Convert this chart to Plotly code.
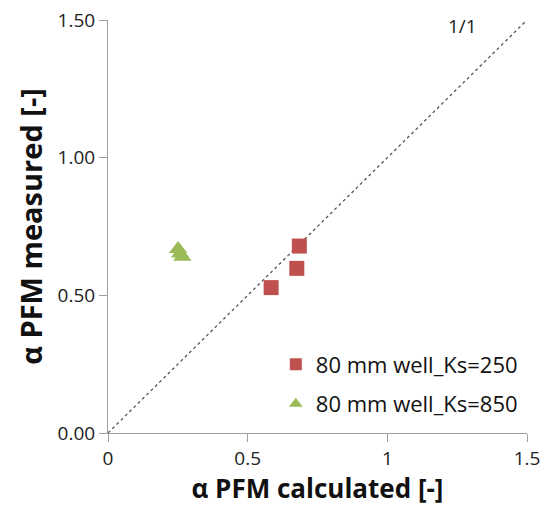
import plotly.graph_objects as go

ks250_x = [0.685, 0.676, 0.584]
ks250_y = [0.679, 0.598, 0.528]
ks850_x = [0.251, 0.258, 0.266]
ks850_y = [0.668, 0.652, 0.640]
line_xy = [0, 1.5]
x_ticks = [0, 0.5, 1, 1.5]
x_tick_labels = ["0", "0.5", "1", "1.5"]
y_ticks = [0, 0.5, 1.0, 1.5]
y_tick_labels = ["0.00", "0.50", "1.00", "1.50"]

font = "Open Sans"
fig = go.Figure()
fig.add_trace(go.Scatter(x=line_xy, y=line_xy, mode="lines",
                         line=dict(color="#555555", width=1.3, dash="dot"),
                         showlegend=False, hoverinfo="skip"))
fig.add_trace(go.Scatter(x=ks250_x, y=ks250_y, mode="markers", name="80 mm well_Ks=250",
                         legendgroup="a",
                         marker=dict(symbol="square", size=15, color="#c0504d")))
fig.add_trace(go.Scatter(x=ks850_x, y=ks850_y, mode="markers", name="80 mm well_Ks=850",
                         legendgroup="b",
                         marker=dict(symbol="triangle-up", size=16, color="#9bbb59")))

fig.add_annotation(x=1.268, y=1.48, text="1/1", showarrow=False, xref="x", yref="y",
                   font=dict(family=font, size=19, color="#222222"))

fig.update_layout(
    width=544, height=506,
    margin=dict(l=108, r=17, t=20, b=73),
    paper_bgcolor="white", plot_bgcolor="white",
    font=dict(family=font, color="#222222"),
    legend=dict(x=0.99, y=0.217, xanchor="right", yanchor="top",
                font=dict(family=font, size=22, color="#111111"),
                bgcolor="rgba(0,0,0,0)", itemsizing="constant",
                itemwidth=30, traceorder="grouped", tracegroupgap=8),
    xaxis=dict(range=[0, 1.5], tickvals=x_ticks, ticktext=x_tick_labels,
               showgrid=False, zeroline=False, showline=True, linecolor="#a0a0a0",
               linewidth=1, ticks="outside", ticklen=8, tickcolor="#a0a0a0",
               automargin=False,
               tickfont=dict(family=font, size=19, color="#222222"),
               title=dict(text="α PFM calculated [-]",
                          font=dict(family=font, size=26, color="#111111", weight="bold"),
                          standoff=4)),
    yaxis=dict(range=[0, 1.5], tickvals=y_ticks, ticktext=y_tick_labels,
               showgrid=False, zeroline=False, showline=True, linecolor="#a0a0a0",
               linewidth=1, ticks="outside", ticklen=8, tickcolor="#a0a0a0",
               automargin=False,
               tickfont=dict(family=font, size=19, color="#222222"),
               title=dict(text="α PFM measured [-]",
                          font=dict(family=font, size=29, color="#111111", weight="bold"),
                          standoff=6)),
)
fig.write_html("out.html", config={"displayModeBar": False},
               post_script="document.body.style.margin='0px';document.body.style.overflow='hidden';")
